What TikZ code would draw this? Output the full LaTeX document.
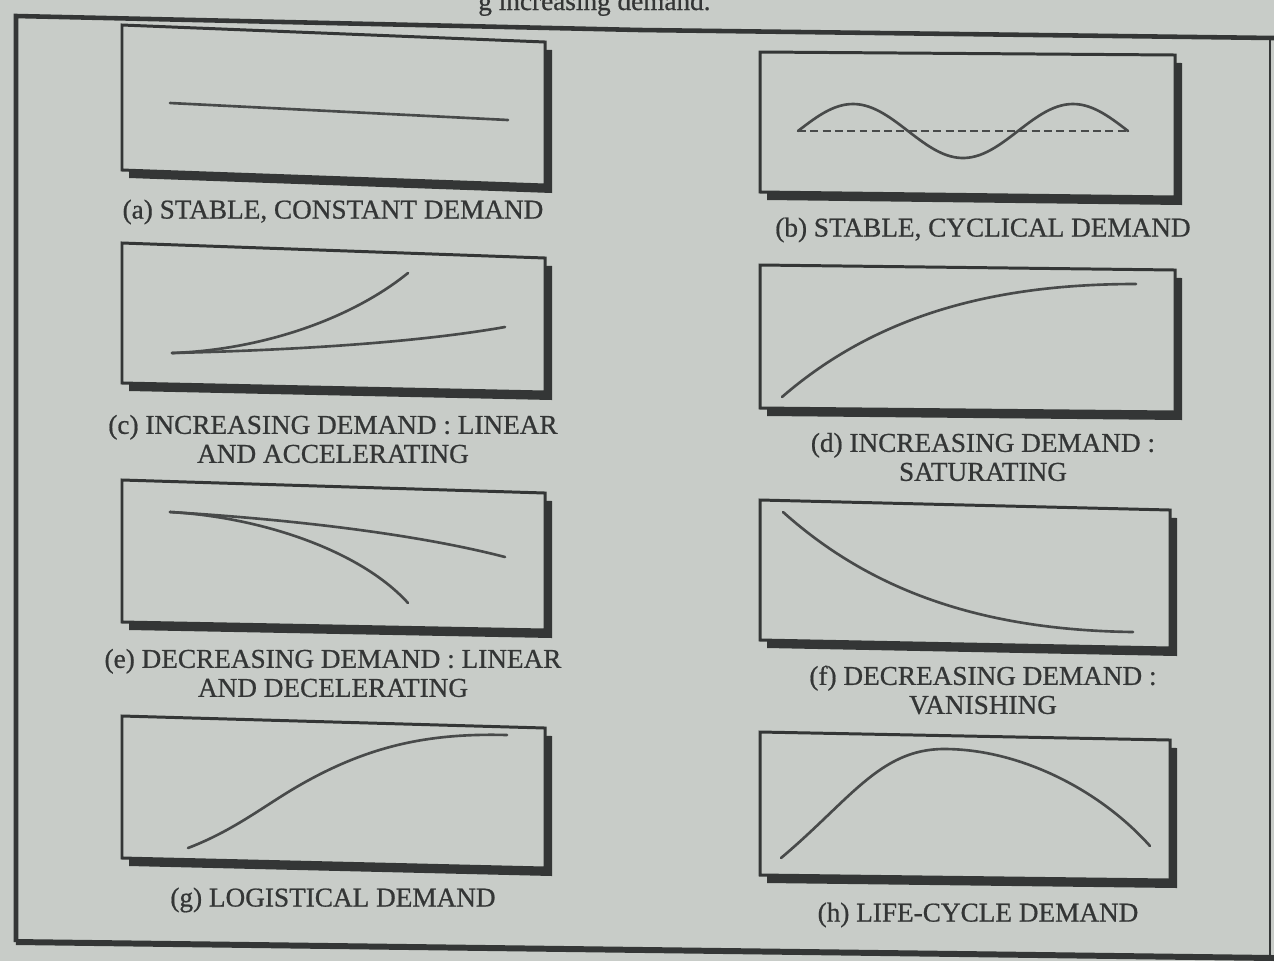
\documentclass[tikz,border=0pt]{standalone}
\usepackage{fontspec}
\setmainfont{Liberation Serif}
\newfontfamily\capfont{Liberation Serif}[FakeBold=0.7]
\definecolor{paper}{RGB}{200,204,200}
\definecolor{ink}{RGB}{52,54,54}
\definecolor{curveink}{RGB}{72,74,74}
\tikzset{
  boxline/.style={draw=ink, line width=1.7pt, fill=paper, line join=miter},
  shadowfill/.style={fill=ink},
  curveline/.style={draw=curveink, line width=1.5pt, line cap=round},
  caption/.style={font=\capfont\fontsize{15.5}{16.5}\selectfont, text=ink, align=center, inner sep=0pt},
  frameline/.style={draw=ink, line width=2.6pt}
}
\newcommand\dembox[8]{%
  \fill[shadowfill] ([shift={(7,8)}]#1,#2) -- ([shift={(7,8)}]#3,#4) -- ([shift={(7,8)}]#5,#6) -- ([shift={(7,8)}]#7,#8) -- cycle;
  \filldraw[boxline] (#1,#2) -- (#3,#4) -- (#5,#6) -- (#7,#8) -- cycle;
}
\begin{document}
\begin{tikzpicture}[x=0.02cm,y=-0.02cm]
\useasboundingbox[fill=paper] (0,0) rectangle (1274,961);
% top fragment of caption text
\node[caption, anchor=base west] (topfrag) at (478,10) {g increasing demand.};
% outer frame
\draw[frameline] (16,942) -- (16,16) -- (640,30) -- (1274,38);
\draw[draw=ink, line width=1.2pt] (1270,38) -- (1270,958);
\draw[draw=ink, line width=3.4pt] (16,942) -- (1274,958);

% (a)
\dembox{122}{25}{545}{42}{545}{185}{122}{170}
\draw[curveline] (170,103) -- (508,120);
\node[caption] (la) at (333,212) {(a) STABLE, CONSTANT DEMAND};

% (b)
\dembox{760}{52}{1175}{55}{1175}{197}{760}{192}
\draw[curveline] plot[domain=0:540, samples=90] ({798+\x*0.61111},{131-27*sin(\x)});
\draw[draw=curveink, line width=1.5pt, dash pattern=on 4.5pt off 2.5pt] (798,131) -- (1128,131);
\node[caption] (lb) at (983,230) {(b) STABLE, CYCLICAL DEMAND};

% (c)
\dembox{122}{243}{545}{258}{545}{392}{122}{383}
\draw[curveline] (172,353) .. controls (300,350) and (420,342) .. (505,327);
\draw[curveline] (172,353) .. controls (260,350) and (350,320) .. (408,273);
\node[caption] (lc) at (333,439) {(c) INCREASING DEMAND : LINEAR\\AND ACCELERATING};

% (d)
\dembox{760}{265}{1175}{270}{1175}{412}{760}{408}
\draw[curveline] (782,397) .. controls (880,312) and (1000,284) .. (1136,284);
\node[caption] (ld) at (983,457) {(d) INCREASING DEMAND :\\SATURATING};

% (e)
\dembox{122}{480}{545}{493}{545}{630}{122}{622}
\draw[curveline] (170,512) .. controls (300,520) and (420,535) .. (505,557);
\draw[curveline] (170,512) .. controls (260,517) and (360,550) .. (408,603);
\node[caption] (le) at (333,673) {(e) DECREASING DEMAND : LINEAR\\AND DECELERATING};

% (f)
\dembox{760}{500}{1170}{510}{1170}{648}{760}{640}
\draw[curveline] (783,512) .. controls (870,590) and (980,630) .. (1133,632);
\node[caption] (lf) at (983,690) {(f) DECREASING DEMAND :\\VANISHING};

% (g)
\dembox{122}{716}{545}{728}{545}{868}{122}{858}
\draw[curveline] (188,848) .. controls (235,830) and (265,805) .. (300,785) .. controls (370,745) and (430,733) .. (507,735);
\node[caption] (lg) at (333,900) {(g) LOGISTICAL DEMAND};

% (h)
\dembox{760}{732}{1170}{740}{1170}{880}{760}{875}
\draw[curveline] (781,858) .. controls (850,800) and (880,749) .. (944,749) .. controls (1020,749) and (1100,790) .. (1150,846);
\node[caption] (lh) at (978,915) {(h) LIFE-CYCLE DEMAND};
\end{tikzpicture}
\end{document}
